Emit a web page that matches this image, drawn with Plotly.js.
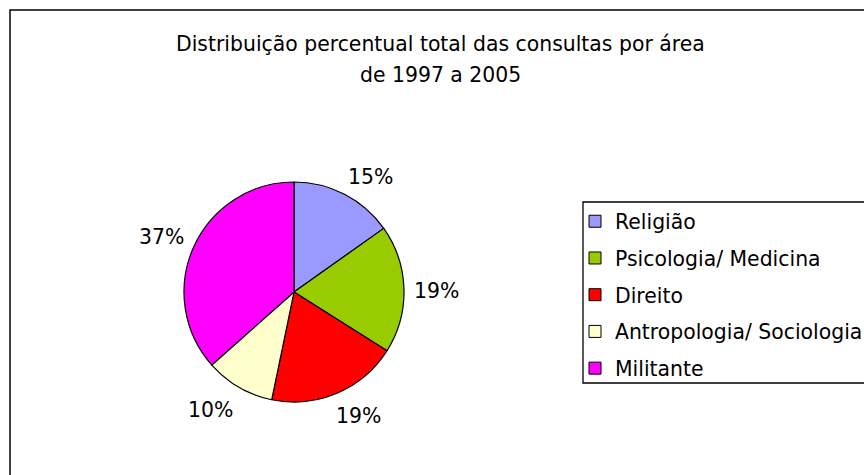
<!DOCTYPE html>
<html>
<head>
<meta charset="utf-8">
<script src="https://cdn.plot.ly/plotly-3.0.1.min.js"></script>
<style>html,body{margin:0;padding:0;background:#fff;}#chart{width:864px;height:475px;}</style>
</head>
<body>
<div id="chart"></div>
<script>
const categories = ['Religião', 'Psicologia/ Medicina', 'Direito', 'Antropologia/ Sociologia', 'Militante'];
const values = [15.2, 18.8, 19.3, 10.2, 36.6];
const colors = ['#9999FF', '#99CC00', '#FF0000', '#FFFFCC', '#FF00FF'];
const titleLines = ['Distribuição percentual total das consultas por área', 'de 1997 a 2005'];

const W = 864, H = 475;
const cx = 294, cy = 292, r = 110, labelGap = 10;
const FONT = 'DejaVu Sans, sans-serif';
const FS = 20.4;

const total = values.reduce((a, b) => a + b, 0);

const traces = [{
  type: 'pie',
  labels: categories,
  values: values,
  sort: false,
  direction: 'clockwise',
  rotation: 0,
  marker: {colors: colors, line: {color: '#000', width: 1.2}},
  textinfo: 'none',
  hoverinfo: 'label+percent',
  showlegend: false,
  domain: {x: [(cx - r) / W, (cx + r) / W], y: [1 - (cy + r) / H, 1 - (cy - r) / H]}
}];

// legend entries
categories.forEach((c, i) => {
  traces.push({
    type: 'bar', x: [null], y: [null], name: c, legendgroup: 'g' + i,
    marker: {color: colors[i], line: {color: '#000', width: 1}},
    showlegend: true, hoverinfo: 'skip'
  });
});

const clamp = v => Math.max(-1, Math.min(1, v));
const annotations = [];
let cum = 0;
values.forEach((v, i) => {
  const mid = (cum + v / 2) / total * 2 * Math.PI;
  cum += v;
  const s = Math.sin(mid), c = Math.cos(mid);
  const d = r + labelGap;
  const px = cx + d * s + 23 * clamp(2 * s);
  const py = cy - d * c - 11 * clamp(2 * c) + 3;
  annotations.push({
    xref: 'paper', yref: 'paper', x: px / W, y: 1 - py / H,
    xanchor: 'center', yanchor: 'middle', showarrow: false,
    text: Math.round(v / total * 100) + '%',
    font: {family: FONT, size: FS, color: '#000'}
  });
});
annotations.push({xref: 'paper', yref: 'paper', x: 440 / W, y: 1 - 43.5 / H, xanchor: 'center', yanchor: 'middle',
  showarrow: false, text: titleLines[0], font: {family: FONT, size: FS, color: '#000'}});
annotations.push({xref: 'paper', yref: 'paper', x: 440 / W, y: 1 - 74.5 / H, xanchor: 'center', yanchor: 'middle',
  showarrow: false, text: titleLines[1], font: {family: FONT, size: FS, color: '#000'}});

const layout = {
  width: W, height: H,
  margin: {l: 0, r: 0, t: 0, b: 0, autoexpand: false},
  paper_bgcolor: '#fff', plot_bgcolor: 'rgba(0,0,0,0)',
  xaxis: {visible: false, fixedrange: true},
  yaxis: {visible: false, fixedrange: true},
  showlegend: true,
  legend: {
    x: 575 / W, y: 1 - 201.5 / H, xanchor: 'left', yanchor: 'top',
    bgcolor: 'rgba(0,0,0,0)', borderwidth: 0,
    font: {family: FONT, size: FS, color: '#000'},
    tracegroupgap: 7.2, traceorder: 'grouped'
  },
  annotations: annotations,
  shapes: [
    {type: 'rect', xref: 'paper', yref: 'paper', x0: 10 / W, x1: 1.05, y0: 1 - 10 / H, y1: -0.05,
      line: {color: '#000', width: 1.5}, fillcolor: 'rgba(0,0,0,0)', layer: 'below'},
    {type: 'rect', xref: 'paper', yref: 'paper', x0: 583 / W, x1: 1.05, y0: 1 - 202 / H, y1: 1 - 383 / H,
      line: {color: '#000', width: 1.3}, fillcolor: 'rgba(0,0,0,0)', layer: 'below'}
  ]
};

Plotly.newPlot('chart', traces, layout, {displayModeBar: false, staticPlot: true});
</script>
</body>
</html>
